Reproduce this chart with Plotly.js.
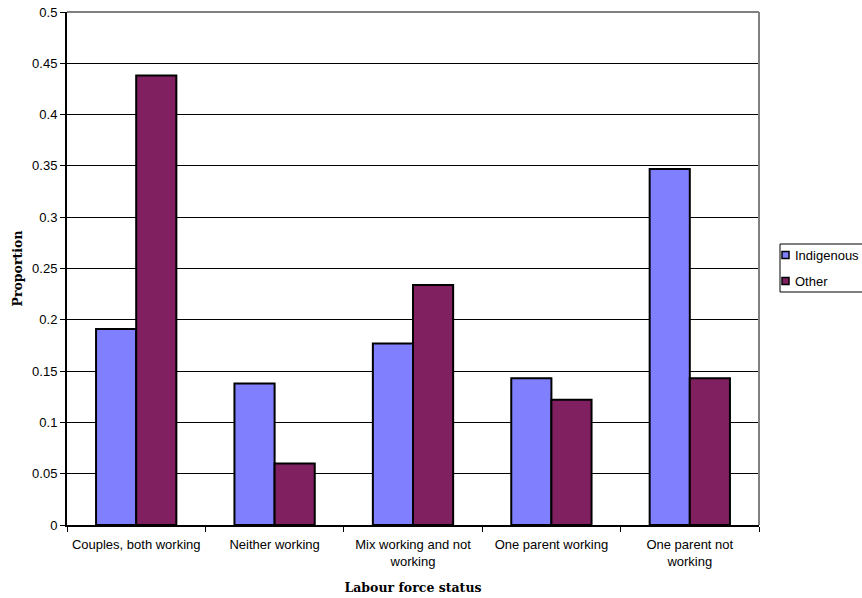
<!DOCTYPE html>
<html>
<head>
<meta charset="utf-8">
<script src="https://cdn.plot.ly/plotly-3.0.1.min.js"></script>
<style>html,body{margin:0;padding:0;background:#fff;}#chart{width:862px;height:598px;}</style>
</head>
<body>
<div id="chart"></div>
<script>
const categories = ["Couples, both working", "Neither working", "Mix working and not<br>working", "One parent working", "One parent not<br>working"];
const seriesNames = ["Indigenous", "Other"];
const indigenous = [0.191, 0.138, 0.177, 0.143, 0.347];
const other = [0.438, 0.060, 0.234, 0.122, 0.143];
const yTicks = [0, 0.05, 0.1, 0.15, 0.2, 0.25, 0.3, 0.35, 0.4, 0.45, 0.5];
const yTickText = ["0", "0.05", "0.1", "0.15", "0.2", "0.25", "0.3", "0.35", "0.4", "0.45", "0.5"];
const colors = ["#8080ff", "#802060"];

const data = [
  {type: "bar", name: seriesNames[0], x: categories, y: indigenous,
   marker: {color: colors[0], line: {color: "#000", width: 2}}},
  {type: "bar", name: seriesNames[1], x: categories, y: other,
   marker: {color: colors[1], line: {color: "#000", width: 2}}}
];

// Manual legend (paper coordinates) to reproduce the boxed legend at the right
const X = px => (px - 67) / 692;
const Y = py => (525 - py) / 513;
const legendShapes = [
  {type: "rect", xref: "paper", yref: "paper", x0: X(780), x1: X(866), y0: Y(292), y1: Y(244),
   line: {color: "#000", width: 1}, fillcolor: "#fff"}
];
const legendAnn = [];
const rowY = [255, 281];
seriesNames.forEach((n, i) => {
  legendShapes.push({type: "rect", xref: "paper", yref: "paper",
    x0: X(782), x1: X(789), y0: Y(rowY[i] + 3.5), y1: Y(rowY[i] - 3.5),
    line: {color: "#000", width: 1.5}, fillcolor: colors[i]});
  legendAnn.push({xref: "paper", yref: "paper", x: X(793), y: Y(rowY[i]), xanchor: "left", yanchor: "middle",
    text: n, showarrow: false, font: {family: "Liberation Sans, Arial, sans-serif", size: 13, color: "#000"}});
});

const layout = {
  width: 862, height: 598,
  margin: {l: 67, r: 103, t: 12, b: 73},
  paper_bgcolor: "#fff", plot_bgcolor: "#fff",
  barmode: "group", bargap: 0.42, bargroupgap: 0,
  showlegend: false,
  font: {family: "Liberation Sans, Arial, sans-serif", size: 13, color: "#000"},
  xaxis: {
    type: "category", tickson: "boundaries", ticks: "outside", ticklen: 5, tickcolor: "#000", tickwidth: 1,
    showline: true, linecolor: "#000", linewidth: 2, showgrid: false,
    ticklabelstandoff: 6,
    tickfont: {family: "Liberation Sans, Arial, sans-serif", size: 13, color: "#000"},
    title: {text: "Labour force status", font: {family: "DejaVu Serif, serif", size: 12.5, color: "#000", weight: "bold"}, standoff: 16}
  },
  yaxis: {
    range: [0, 0.5], tickvals: yTicks, ticktext: yTickText, ticks: "outside", ticklen: 5, tickcolor: "#000",
    showline: true, linecolor: "#000", linewidth: 2,
    showgrid: true, gridcolor: "#000", gridwidth: 1, zeroline: false,
    tickfont: {family: "Liberation Sans, Arial, sans-serif", size: 13, color: "#000"},
    title: {text: "Proportion", font: {family: "DejaVu Serif, serif", size: 12.5, color: "#000", weight: "bold"}, standoff: 7}
  },
  shapes: [
    {type: "line", xref: "paper", yref: "paper", x0: 0, x1: 1, y0: 1, y1: 1, line: {color: "#808080", width: 2}},
    {type: "line", xref: "paper", yref: "paper", x0: 1, x1: 1, y0: 0, y1: 1, line: {color: "#808080", width: 2}}
  ].concat(legendShapes),
  annotations: legendAnn
};

Plotly.newPlot("chart", data, layout, {displayModeBar: false, staticPlot: true});
</script>
</body>
</html>
